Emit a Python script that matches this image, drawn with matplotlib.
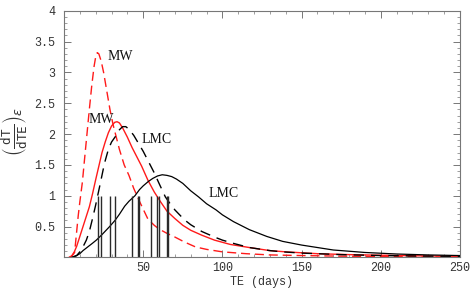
import matplotlib
matplotlib.use("Agg")
import matplotlib.pyplot as plt
from matplotlib.ticker import MultipleLocator, FixedLocator

# MW dashed (red dashed)
mw_dash_x = [3, 5, 6.7, 8, 9, 10, 11.6, 13, 14.5, 16, 17.5, 19, 20, 21, 22, 23.5, 25, 27, 29, 31, 33, 35,
             38, 41, 44, 48, 53, 57, 60, 65, 70, 76, 83, 90, 100, 115, 130, 150, 175, 200, 225, 250]
mw_dash_y = [0, 0.02, 0.08, 0.42, 0.68, 0.9, 1.22, 1.6, 2.0, 2.4, 2.78, 3.1, 3.25, 3.32, 3.3, 3.18, 3.0,
             2.7, 2.4, 2.15, 1.95, 1.75, 1.5, 1.33, 1.12, 0.89, 0.62, 0.52, 0.46, 0.39, 0.33, 0.25, 0.17,
             0.13, 0.09, 0.06, 0.04, 0.03, 0.02, 0.015, 0.01, 0.008]

# MW solid (red solid)
mw_sol_x = [3.5, 5, 6.5, 8, 10, 12, 14, 16, 18, 20, 22, 24, 26, 28, 30, 32, 33.5, 35, 37, 40, 43, 46, 49,
            53, 57, 61, 65, 70, 75, 80, 87, 95, 105, 117, 130, 140, 160, 180, 200, 225, 250]
mw_sol_y = [0, 0.03, 0.09, 0.18, 0.34, 0.5, 0.66, 0.82, 1.03, 1.26, 1.48, 1.7, 1.87, 2.02, 2.13, 2.19,
            2.2, 2.18, 2.1, 1.95, 1.78, 1.63, 1.48, 1.25, 1.06, 0.9, 0.75, 0.63, 0.52, 0.44, 0.36, 0.28,
            0.21, 0.16, 0.11, 0.09, 0.06, 0.045, 0.035, 0.025, 0.02]

# LMC dashed (black dashed)
lmc_dash_x = [5, 8, 11, 14.1, 16, 18.3, 20, 22.5, 25.6, 28, 30, 33, 35, 37, 39, 41, 44, 47, 50, 53, 57,
              60, 64, 67, 70, 76, 80, 87, 95, 100, 108, 117, 130, 138, 150, 175, 200, 225, 250]
lmc_dash_y = [0, 0.03, 0.12, 0.28, 0.42, 0.66, 0.85, 1.15, 1.53, 1.75, 1.87, 1.98, 2.07, 2.12, 2.12,
              2.08, 1.98, 1.85, 1.72, 1.57, 1.37, 1.2, 0.98, 0.87, 0.77, 0.61, 0.53, 0.42, 0.33, 0.28,
              0.22, 0.16, 0.11, 0.09, 0.07, 0.045, 0.03, 0.022, 0.017]

# LMC solid (black solid)
lmc_sol_x = [5, 8, 10, 12, 15, 18, 20.4, 24, 28.8, 32.2, 35, 38.3, 41, 44.8, 47.7, 50, 53.2, 56, 59, 62,
             65, 68, 71, 75, 80, 85, 90, 96, 100, 107, 117, 128, 138, 150, 170, 190, 210, 230, 250]
lmc_sol_y = [0, 0.03, 0.06, 0.11, 0.17, 0.23, 0.28, 0.37, 0.5, 0.6, 0.7, 0.83, 0.91, 1.0, 1.1, 1.16,
             1.23, 1.28, 1.32, 1.34, 1.33, 1.31, 1.27, 1.2, 1.08, 0.98, 0.87, 0.77, 0.69, 0.58, 0.45,
             0.34, 0.26, 0.2, 0.12, 0.08, 0.055, 0.04, 0.03]

# observed event durations (vertical bars, height 1)
events_te = [21.7, 23.3, 29, 32.2, 42.7, 46.6, 47.5, 55.1, 58.9, 60.2, 64.8, 65.9]
event_height = 1.0

labels = [("MW", 35.5, 3.25), ("MW", 23.3, 2.24), ("LMC", 58.5, 1.91), ("LMC", 101, 1.03)]

x_ticks = [50, 100, 150, 200, 250]
y_ticks = [0.5, 1, 1.5, 2, 2.5, 3, 3.5, 4]

fig = plt.figure(figsize=(4.74, 2.93), dpi=100)
ax = fig.add_axes([64 / 474, 1 - 257.4 / 293, 396 / 474, 246.7 / 293])

red = "#ff1a1a"
ax.plot(mw_dash_x, mw_dash_y, color=red, lw=1.0, linestyle=(0, (6.5, 3.5)))
ax.plot(mw_sol_x, mw_sol_y, color=red, lw=1.0)
ax.plot(lmc_dash_x, lmc_dash_y, color="black", lw=1.0, linestyle=(0, (7.5, 5)))
ax.plot(lmc_sol_x, lmc_sol_y, color="black", lw=0.9)
ax.vlines(events_te, 0, event_height, color="#2a2a2a", lw=1.0)

for txt, x, y in labels:
    ax.text(x, y, txt, family="Liberation Serif", fontsize=10, ha="center", va="center", color="#111")

ax.set_xlim(0, 250)
ax.set_ylim(0, 4)
ax.xaxis.set_major_locator(FixedLocator(x_ticks))
ax.xaxis.set_minor_locator(MultipleLocator(10))
ax.yaxis.set_major_locator(FixedLocator(y_ticks))
ax.yaxis.set_minor_locator(MultipleLocator(0.1))
ax.tick_params(which="both", direction="in", top=True, right=True, color="#777",
               labelsize=8.5, labelcolor="#333")
ax.tick_params(which="major", length=5, width=0.7)
ax.tick_params(which="minor", length=2.5, width=0.5)
ax.tick_params(axis="y", pad=6)
ax.tick_params(axis="x", pad=3)
ax.set_xticklabels([str(v) for v in x_ticks], family="Liberation Mono")
ax.set_yticklabels([("%g" % v) for v in y_ticks], family="Liberation Mono")
for s in ax.spines.values():
    s.set_color("#777")
    s.set_linewidth(0.8)

ax.set_xlabel("TE (days)", family="Liberation Mono", fontsize=8.5, color="#333", labelpad=2)
fig.text(15 / 474, 1 - 131 / 293,
         r"$\left(\frac{\mathtt{dT}}{\mathtt{dTE}}\right)_{\epsilon}$",
         fontsize=13, color="#333", rotation=90, ha="center", va="center")

fig.savefig("out.png", dpi=100)
